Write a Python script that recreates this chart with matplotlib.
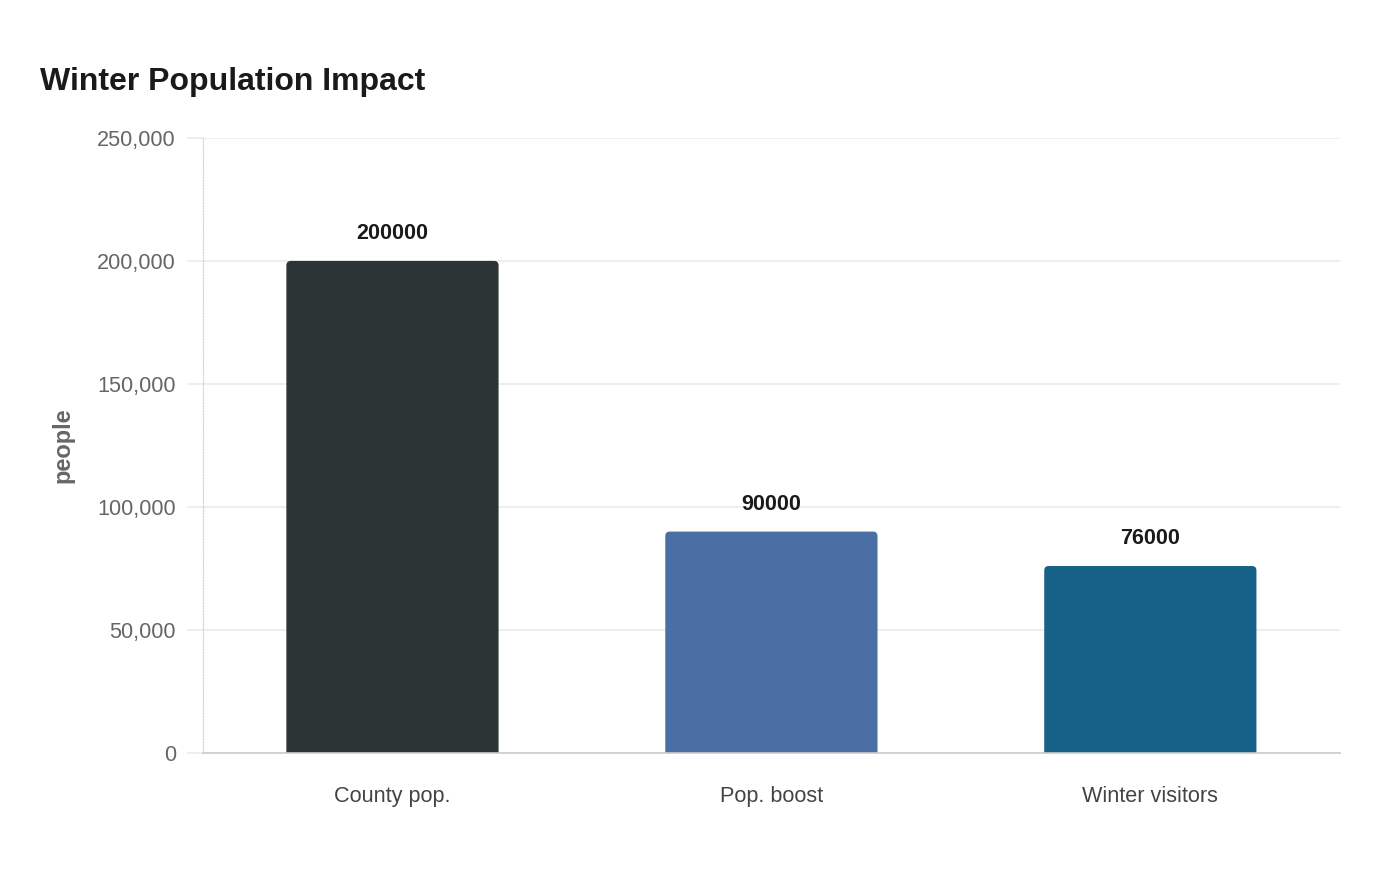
import matplotlib.pyplot as plt
from matplotlib.patches import FancyBboxPatch
from matplotlib.ticker import FuncFormatter

categories = ['County pop.', 'Pop. boost', 'Winter visitors']
values = [200000, 90000, 76000]
colors = ['#2d3436', '#4a6fa5', '#176087']

plt.rcParams['font.family'] = ['Liberation Sans', 'DejaVu Sans']

fig = plt.figure(figsize=(14, 8.8), dpi=100)
ax = fig.add_axes([0.145, 0.1443, 0.812, 0.699])

bars = ax.bar(range(len(categories)), values, width=0.56, color=colors, linewidth=0)
ax.set_xlim(-0.5, 2.5)
ax.set_ylim(0, 250000)

# swap plain bars for ones with slightly rounded tops
ax_w = 0.812 * 1400
ax_h = 0.699 * 880
rx = 4.5 * 3 / ax_w
ry = 4.5 * 250000 / ax_h
for b in list(bars.patches):
    x, w, h = b.get_x(), b.get_width(), b.get_height()
    rb = FancyBboxPatch((x, -ry), w, h + ry,
                        boxstyle=f"round,pad=0,rounding_size={rx}",
                        mutation_aspect=ry / rx,
                        facecolor=b.get_facecolor(), linewidth=0, zorder=2)
    ax.add_patch(rb)
    b.remove()
    ax.annotate(str(h), (x + w / 2, h), xytext=(0, 12), textcoords='offset points',
                ha='center', va='bottom', fontsize=15.5, fontweight='bold', color='#1a1a1a')

ax.set_xticks(range(len(categories)))
ax.set_xticklabels(categories)
ax.set_yticks([0, 50000, 100000, 150000, 200000, 250000])
ax.yaxis.set_major_formatter(FuncFormatter(lambda v, p: f'{int(v):,}'))

ax.grid(axis='y', color='#ebebeb', linewidth=1.2, zorder=0)
ax.set_axisbelow(True)
ax.tick_params(axis='x', length=0, pad=23.5, labelsize=15.6, labelcolor='#444444')
ax.tick_params(axis='y', length=11.5, width=1.2, color='#ebebeb', pad=8,
               labelsize=15.6, labelcolor='#666666')

for s in ['top', 'right']:
    ax.spines[s].set_visible(False)
ax.spines['left'].set_color('#d0d0d0')
ax.spines['left'].set_linestyle((0, (1, 1.5)))
ax.spines['left'].set_linewidth(0.8)
ax.spines['bottom'].set_color('#cccccc')
ax.spines['bottom'].set_linewidth(1.2)

ax.set_ylabel('people', fontsize=17, fontweight='bold', color='#666666')
ax.yaxis.set_label_coords(-0.1135, 0.5)

fig.text(40 / 1400, 1 - 82 / 880, 'Winter Population Impact', fontsize=23,
         fontweight='bold', color='#1a1a1a', ha='left', va='center')

fig.savefig('out.png', dpi=100)
